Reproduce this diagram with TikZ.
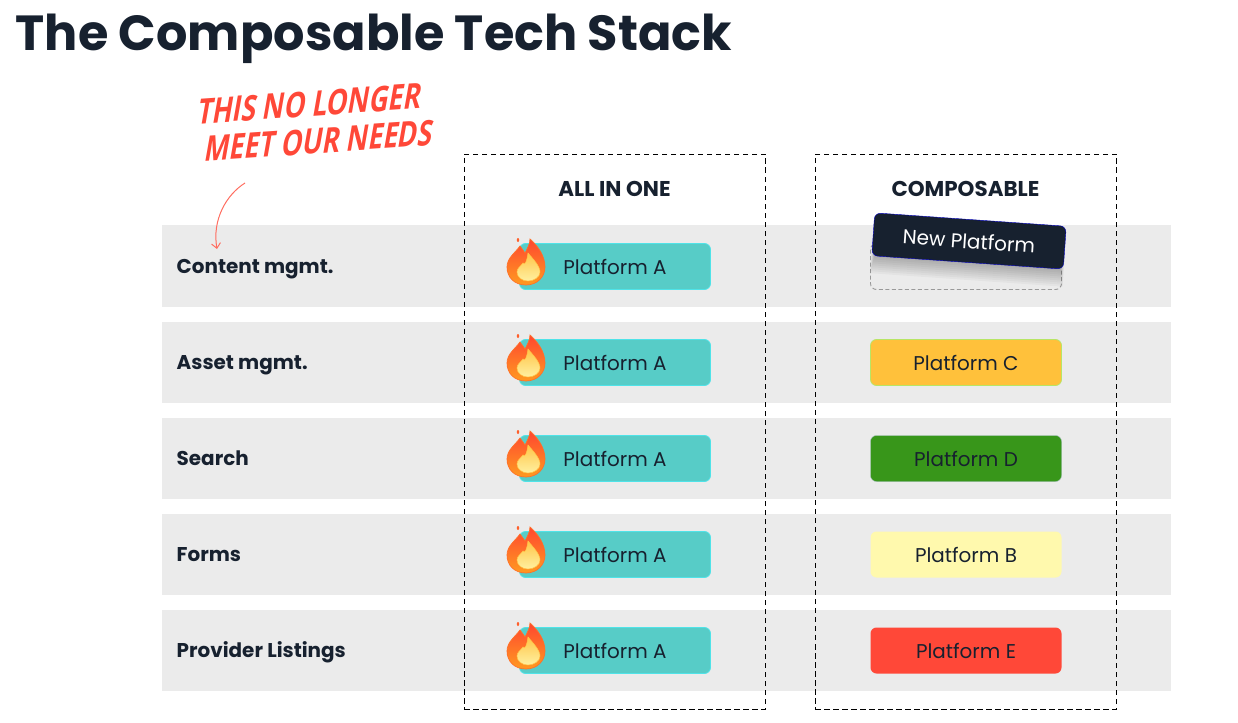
\documentclass[tikz,border=0pt]{standalone}
\usepackage{fontspec}
\setmainfont{Poppins}
\newfontfamily\handfont[FakeStretch=.76,FakeSlant=.25]{Open Sans}
\usepackage{tikz}
\usetikzlibrary{arrows.meta,positioning}
\definecolor{inkcol}{HTML}{17212F}
\definecolor{rowcol}{HTML}{EBEBEB}
\definecolor{tealcol}{HTML}{57CCC7}
\definecolor{tealedge}{HTML}{4FE3E8}
\definecolor{redcol}{HTML}{FF4838}
\definecolor{orangecol}{HTML}{FFC13B}
\definecolor{greencol}{HTML}{38961A}
\definecolor{palecol}{HTML}{FFF9AD}
\definecolor{flametop}{HTML}{FF4630}
\definecolor{flamelow}{HTML}{FF9A20}
\definecolor{coretop}{HTML}{FFC548}
\definecolor{corelow}{HTML}{FFF0A0}
\tikzstyle{rowbox} = [rectangle, draw=none, fill=rowcol, minimum width=1009bp, minimum height=81bp, inner sep=0pt]
\tikzstyle{rowname} = [text=inkcol, font=\fontsize{20}{24}\selectfont\bfseries, inner sep=0pt]
\tikzstyle{column} = [rectangle, draw=black, dash pattern=on 5.5bp off 3.5bp, line width=0.9pt, minimum width=301bp, minimum height=555bp, inner sep=0pt]
\tikzstyle{colname} = [text=inkcol, font=\fontsize{21.5}{24}\selectfont\bfseries, inner sep=0pt]
\tikzstyle{platform} = [rectangle, rounded corners=6bp, minimum width=191bp, minimum height=46bp, inner sep=0pt, text=inkcol, font=\fontsize{20}{24}\selectfont]
\tikzstyle{notetext} = [text=redcol, rotate=4, inner sep=0pt, font=\fontsize{35}{38}\selectfont\handfont\bfseries]
\newcommand{\flame}[1]{%
  \begin{scope}[shift={#1}]
    \shadedraw[top color=flametop, bottom color=flamelow, draw=flamelow!50!flametop, line width=0.7pt]
      (19,46) .. controls (7,46) and (0,38) .. (0,28)
      .. controls (0,19) and (8,14) .. (13,7)
      .. controls (15,10) and (17,12) .. (18,14)
      .. controls (20,10) and (23,5) .. (23,0)
      .. controls (31,7) and (38,17) .. (38,28)
      .. controls (38,38) and (30,46) .. (19,46) -- cycle;
    \shadedraw[top color=coretop, bottom color=corelow, draw=coretop, line width=0.5pt]
      (21,42) .. controls (15,42) and (10,38) .. (10,33)
      .. controls (10,29) and (14,27) .. (16,24)
      .. controls (18,27) and (20,22) .. (21,14)
      .. controls (26,20) and (33,27) .. (33,33)
      .. controls (33,38) and (27,42) .. (21,42) -- cycle;
    \fill[flametop!70!flamelow] (11,1) ellipse (1.2 and 2);
  \end{scope}}
\begin{document}
\begin{tikzpicture}[x=1bp,y=-1bp,>=latex]
\useasboundingbox (0,0) rectangle (1238,723);
%% rows
\foreach \name/\txt/\yy in {content/Content mgmt./266,asset/Asset mgmt./362,search/Search/458,forms/Forms/554,listings/Provider Listings/650}{
  \node (\name) at (666.5,\yy) [rowbox] {};
  \node (\name label) at (176.5,\yy+7.5) [rowname,anchor=base west] {\txt};
}
%% columns
\node (allinone) at (614.5,431.5) [column] {};
\node (composable) at (965.5,431.5) [column] {};
\node (allinone title) at (614.5,189) [colname] {ALL IN ONE};
\node (composable title) at (965.5,189) [colname] {COMPOSABLE};
%% left column
\foreach \yy/\n in {266/1,362/2,458/3,554/4,650/5}{
  \node (platA\n) at (615,\yy+0.5) [platform,fill=tealcol,draw=tealedge,line width=0.8pt] {Platform A};
  \flame{(507,\yy-27)}
}
%% right column
\node (platC) at (966,362.5) [platform,fill=orangecol,draw=green!40!orangecol!70!white,line width=0.8pt] {Platform C};
\node (platD) at (966,458.5) [platform,fill=greencol,draw=blue!20!white!70!greencol] {Platform D};
\node (platB) at (966,554.5) [platform,fill=palecol] {Platform B};
\node (platE) at (966,650.5) [platform,fill=redcol] {Platform E};
\node (slot) at (966,266.5) [platform,draw=black!40,dash pattern=on 4bp off 2.5bp,line width=0.9pt] {};
\foreach \s in {0,...,9}{
  \fill[black,opacity=0.03,rotate around={-4:(969,241)}]
    ({876-\s*0.4},{245+\s}) rectangle ({1062+\s*0.4},{262+2*\s});
}
\node (newplat) at (969,241) [platform,fill=inkcol,draw=blue!75!black,text=white,rotate=-4,minimum width=192bp,minimum height=43bp] {New Platform};
%% note
\node (note1) at (307,104) [notetext] {THIS NO LONGER};
\node (note2) at (316.5,141) [notetext] {MEET OUR NEEDS};
\coordinate (notestart) at (245,183);
\coordinate (noteend) at (217,249);
\draw [->,>={Straight Barb[length=5bp,width=9bp]},redcol!80!white,line width=1pt] (notestart) .. controls (226,195) and (212,220) .. (noteend);
%% title
\node (title) at (15.5,51) [anchor=base west,inner sep=0pt,text=inkcol,font=\fontsize{49.5}{56}\selectfont\bfseries] {The Composable Tech Stack};
\end{tikzpicture}
\end{document}
